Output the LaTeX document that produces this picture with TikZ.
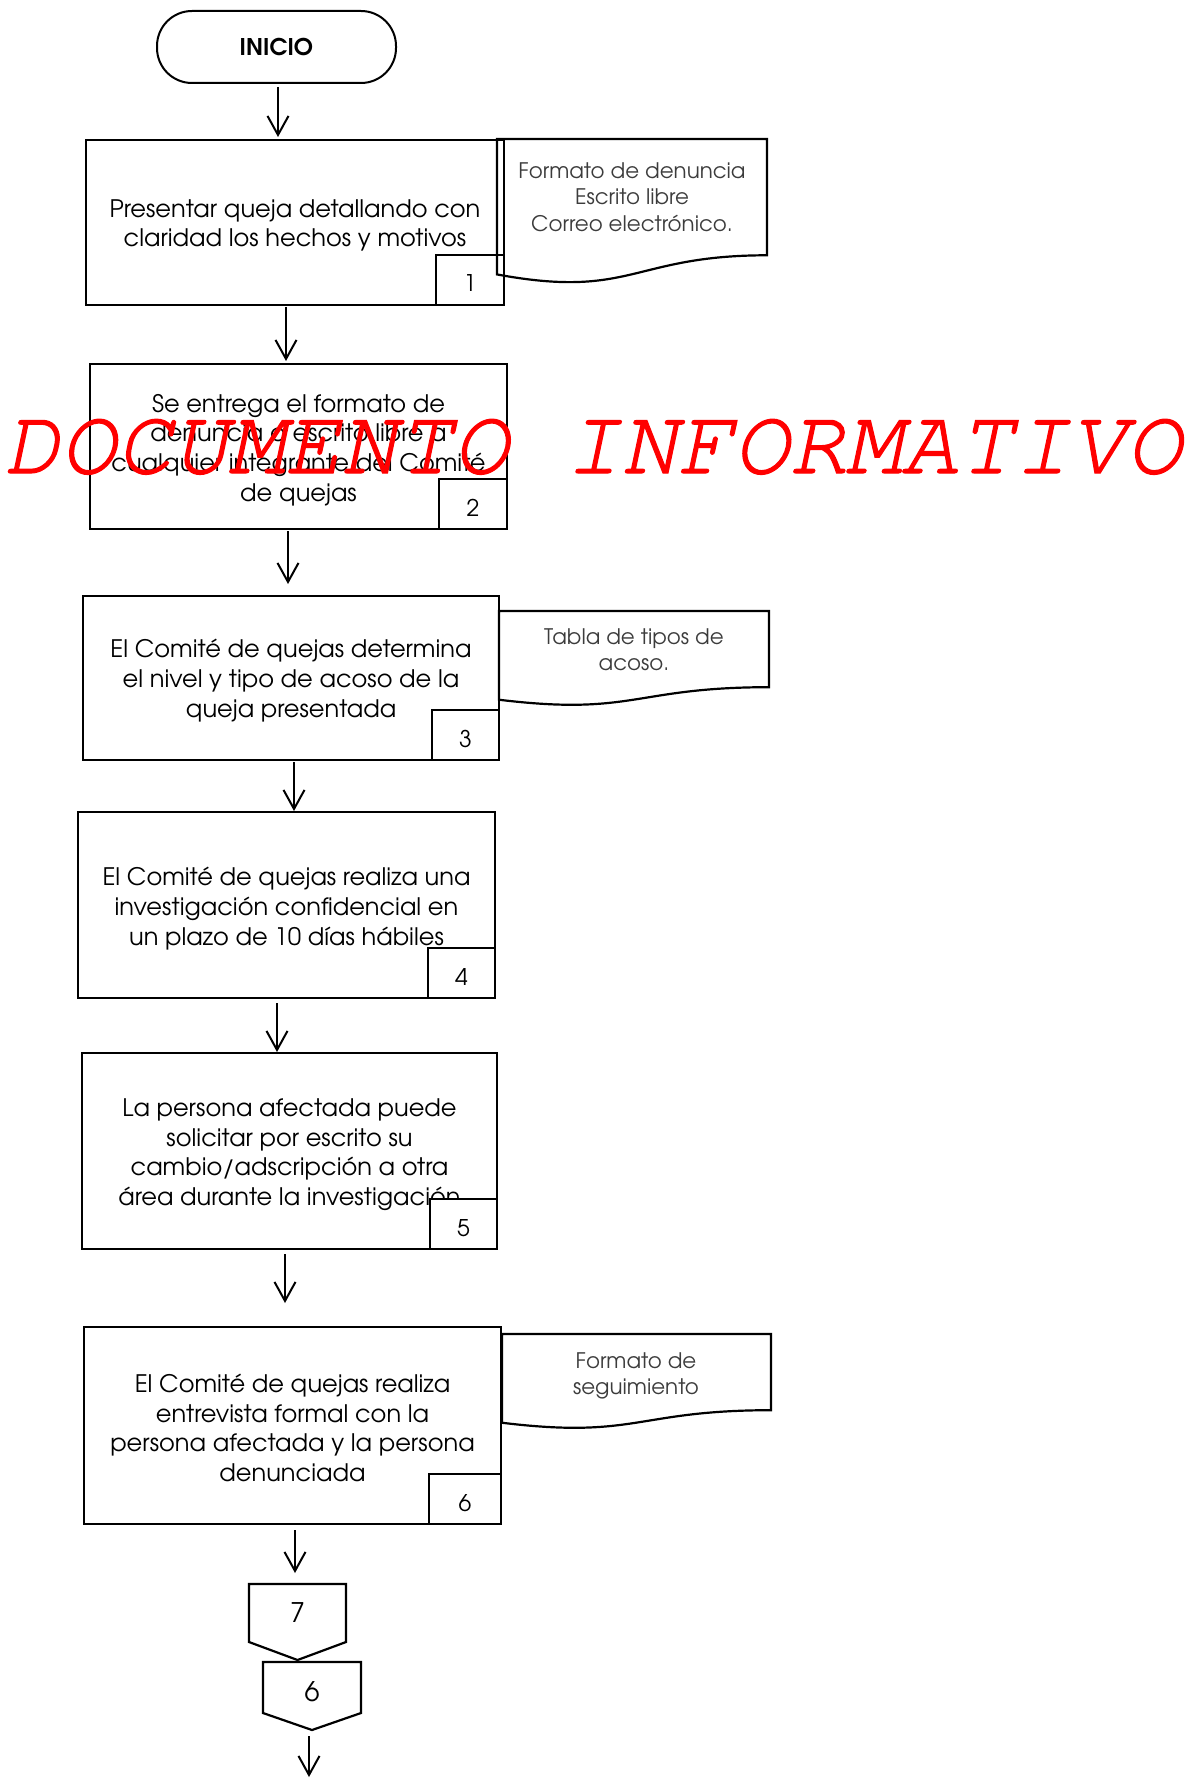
\documentclass[tikz,border=0pt]{standalone}
\usepackage{fontspec}
\setmainfont{texgyreadventor}[Extension=.otf, UprightFont=*-regular, BoldFont=*-bold, ItalicFont=*-italic, BoldItalicFont=*-bolditalic]
\newfontfamily\wmfont{texgyrecursor-italic.otf}[FakeBold=1.3]
\usetikzlibrary{arrows.meta}
\definecolor{doctext}{HTML}{3C3C3C}
\definecolor{wmred}{HTML}{FF0000}
\newcommand\DocPath[4]{%
  \draw[docline] (#1,#2) -- ({#1+#3},#2) -- ({#1+#3},{#2+0.802*#4})
    .. controls ({#1+#3/2},{#2+0.802*#4}) and ({#1+#3/2},{#2+1.107*#4}) ..
    (#1,{#2+0.934*#4}) -- cycle;}
\begin{document}
\begin{tikzpicture}[x=1pt,y=-1pt,
  every node/.style={inner sep=0pt, outer sep=0pt},
  startbox/.style={draw, line width=2pt, rounded corners=35pt, minimum width=239pt, minimum height=72pt, anchor=north west, font=\bfseries\fontsize{23}{26}\selectfont},
  procbox/.style={draw, line width=2.4pt, anchor=north west},
  boxtxt/.style={align=center, font=\fontsize{24.1}{29.6}\selectfont},
  numbox/.style={draw, line width=2.4pt, fill=white, anchor=south east, minimum width=68pt, minimum height=50pt, text height=24pt, text depth=0pt, font=\fontsize{23}{25}\selectfont},
  doctxt/.style={align=center, text=doctext, font=\fontsize{21.4}{26.3}\selectfont},
  docline/.style={line width=2.2pt},
  offtxt/.style={font=\fontsize{27}{28}\selectfont},
  conn/.style={line width=2pt, -{Straight Barb[length=19pt,width=21pt]}},
  ]
\useasboundingbox (0,0) rectangle (1198,1784);

% start
\node[startbox] (start) at (157,11) {INICIO};

% process boxes
\node[procbox, minimum width=418pt, minimum height=165pt] (b1) at (86,140) {};
\node[procbox, minimum width=417pt, minimum height=165pt] (b2) at (90,364) {};
\node[procbox, minimum width=416pt, minimum height=164pt] (b3) at (83,596) {};
\node[procbox, minimum width=417pt, minimum height=186pt] (b4) at (78,812) {};
\node[procbox, minimum width=415pt, minimum height=196pt] (b5) at (82,1053) {};
\node[procbox, minimum width=417pt, minimum height=197pt] (b6) at (84,1327) {};

% box texts
\node[boxtxt] (t1) at ([yshift=-3pt]b1.center)
  {Presentar queja detallando con\\claridad los hechos y motivos};
\node[boxtxt] (t2) at ([yshift=-3.5pt]b2.center)
  {Se entrega el formato de\\denuncia o escrito libre a\\cualquier integrante del Comité\\de quejas};
\node[boxtxt] (t3) at ([yshift=-2.5pt]b3.center)
  {El Comité de quejas determina\\el nivel y tipo de acoso de la\\queja presentada};
\node[boxtxt] (t4) at ([yshift=-3.5pt]b4.center)
  {El Comité de quejas realiza una\\investigación confidencial en\\un plazo de 10 días hábiles};
\node[boxtxt] (t5) at ([yshift=-3.5pt]b5.center)
  {La persona afectada puede\\solicitar por escrito su\\cambio/adscripción a otra\\área durante la investigación};
\node[boxtxt] (t6) at ([yshift=-2.5pt]b6.center)
  {El Comité de quejas realiza\\entrevista formal con la\\persona afectada y la persona\\denunciada};

% number boxes
\node[numbox] (n1) at (b1.south east) {1};
\node[numbox] (n2) at (b2.south east) {2};
\node[numbox, minimum width=67pt] (n3) at (b3.south east) {3};
\node[numbox, minimum width=67pt] (n4) at (b4.south east) {4};
\node[numbox, minimum width=67pt] (n5) at (b5.south east) {5};
\node[numbox, minimum width=72pt] (n6) at (b6.south east) {6};

% document shapes
\DocPath{497}{139}{270}{145}
\node[doctxt] (d1) at (632,197) {Formato de denuncia\\Escrito libre\\Correo electrónico.};
\DocPath{499}{611}{270}{95}
\node[doctxt] (d3) at (634,650) {Tabla de tipos de\\acoso.};
\DocPath{502}{1334}{269}{95}
\node[doctxt] (d6) at (636,1376) {Formato de\\seguimiento};

% off-page connectors
\draw[docline] (249,1584) -- (346,1584) -- (346,1642) -- (297.5,1660) -- (249,1642) -- cycle;
\node[offtxt] (p7) at (297.5,1613) {7};
\draw[docline] (263,1662) -- (361,1662) -- (361,1713) -- (312,1730) -- (263,1713) -- cycle;
\node[offtxt] (p6) at (312,1692) {6};

% connectors
\coordinate (a0s) at (278,87);   \coordinate (a0e) at (278,137);
\coordinate (a1s) at (286,307);  \coordinate (a1e) at (286,361);
\coordinate (a2s) at (288,531);  \coordinate (a2e) at (288,584);
\coordinate (a3s) at (294,762);  \coordinate (a3e) at (294,811);
\coordinate (a4s) at (277,1003); \coordinate (a4e) at (277,1052);
\coordinate (a5s) at (285,1254); \coordinate (a5e) at (285,1303);
\coordinate (a6s) at (295,1530); \coordinate (a6e) at (295,1573);
\coordinate (a7s) at (309,1736); \coordinate (a7e) at (309,1777);
\draw[conn] (a0s) -- (a0e);
\draw[conn] (a1s) -- (a1e);
\draw[conn] (a2s) -- (a2e);
\draw[conn] (a3s) -- (a3e);
\draw[conn] (a4s) -- (a4e);
\draw[conn] (a5s) -- (a5e);
\draw[conn] (a6s) -- (a6e);
\draw[conn] (a7s) -- (a7e);

% watermark
\node[anchor=base west, text=wmred, font=\wmfont\fontsize{93.5}{93.5}\selectfont] (wm) at (4,473) {DOCUMENTO INFORMATIVO};
\end{tikzpicture}
\end{document}
